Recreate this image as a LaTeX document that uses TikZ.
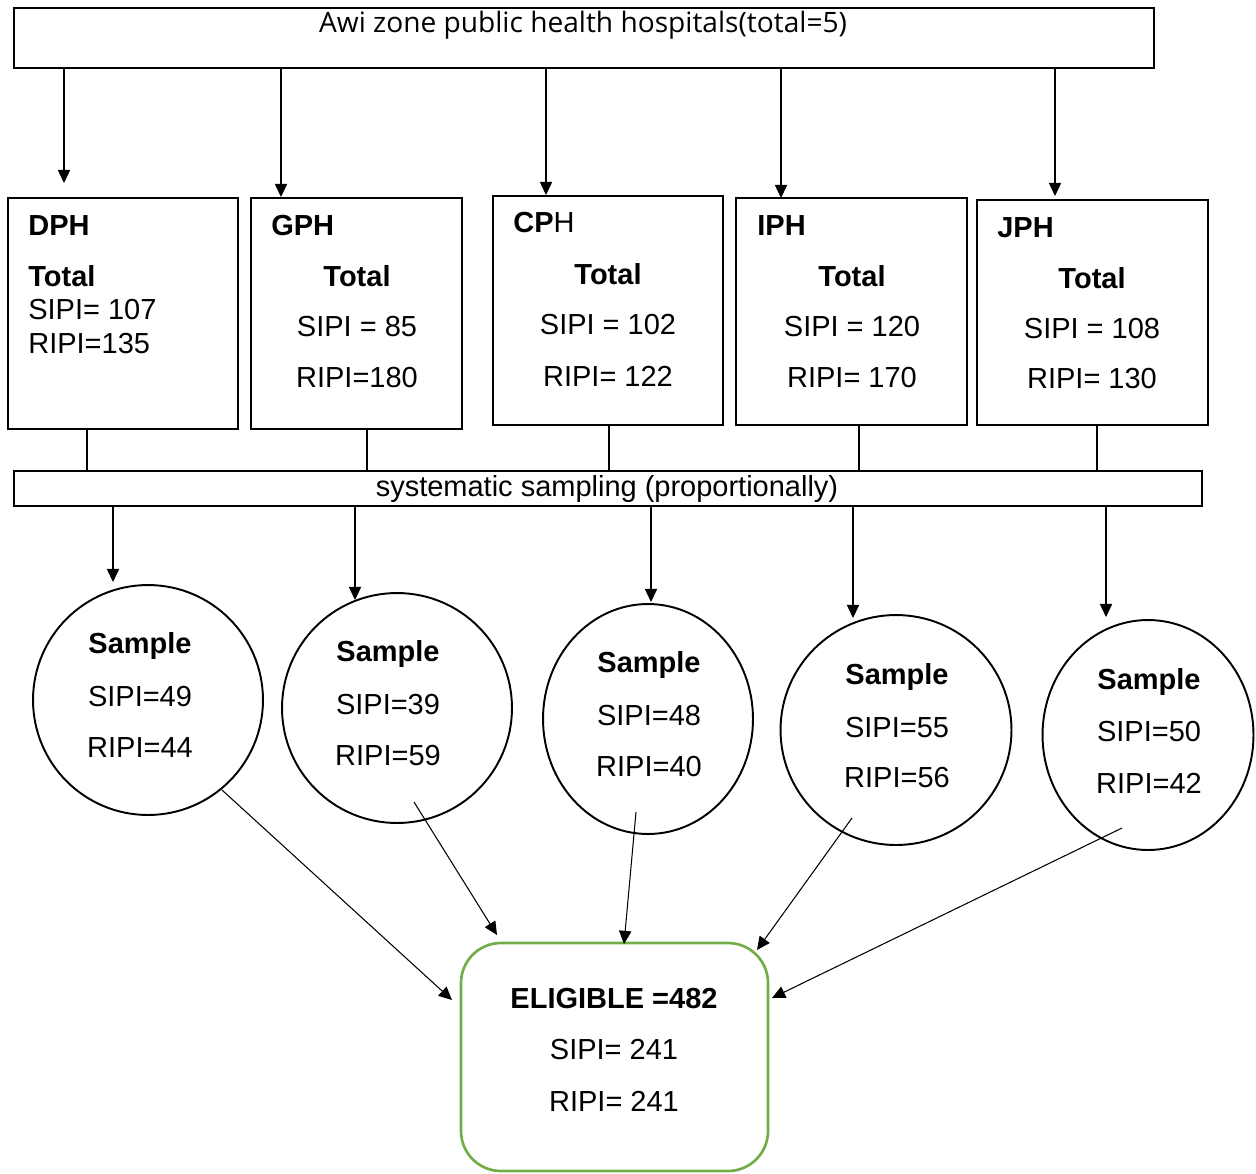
\documentclass[tikz,border=0pt]{standalone}
\usepackage{fontspec}
\setmainfont{Liberation Sans}
\newfontfamily\titlefont{Open Sans}
\usetikzlibrary{arrows.meta,shapes.geometric,fit}
\definecolor{egreen}{RGB}{112,173,71}
\tikzset{
  hbox/.style={draw, line width=0.8pt, inner sep=0pt},
  bar/.style={draw, line width=1.2pt, inner sep=0pt},
  samp/.style={draw, ellipse, line width=1.1pt, inner sep=0pt},
  txt/.style={inner sep=0pt, font=\fontsize{16.5}{20}\selectfont},
  arr/.style={line width=0.6pt, -{Triangle[length=7.5pt,width=7pt]}},
  link/.style={line width=0.6pt}
}
\begin{document}
\begin{tikzpicture}[x=0.02cm, y=-0.02cm]
    \useasboundingbox (0,0) rectangle (1256,1173);
    % top box and sampling bar
    \node[bar, fit={(14,8) (1154,68)}] (top) {};
    \node[txt, font=\titlefont\fontsize{16}{20}\selectfont] (title) at (583,25) {Awi zone public health hospitals(total=5)};
    \node[bar, fit={(14,471) (1202,506)}] (sampling) {};
    \node[txt] (method) at (607,489) {systematic sampling (proportionally)};
    % hospitals
    \node[hbox, fit={(8,198) (238,429)}] (dph) {};
    \node[hbox, fit={(251,198) (462,429)}] (gph) {};
    \node[hbox, fit={(493,196) (723,425)}] (cph) {};
    \node[hbox, fit={(736,198) (967,425)}] (iph) {};
    \node[hbox, fit={(977,200) (1208,425)}] (jph) {};
    \node[txt, anchor=west] (dphname) at (28,226) {\bfseries DPH};
    \node[txt, anchor=west] (dphtot) at (28,276) {\bfseries Total};
    \node[txt, anchor=west] (dphs) at (28,310) {SIPI= 107};
    \node[txt, anchor=west] (dphr) at (28,344) {RIPI=135};
    \node[txt, anchor=west] (gphname) at (271,226) {\bfseries GPH};
    \node[txt] (gphtot) at (357,276) {\bfseries Total};
    \node[txt] (gphs) at (357,327) {SIPI = 85};
    \node[txt] (gphr) at (357,378) {RIPI=180};
    \node[txt, anchor=west] (cphname) at (513,223) {\textbf{CP}H};
    \node[txt] (cphtot) at (608,274) {\bfseries Total};
    \node[txt] (cphs) at (608,325) {SIPI = 102};
    \node[txt] (cphr) at (608,376) {RIPI= 122};
    \node[txt, anchor=west] (iphname) at (757,226) {\bfseries IPH};
    \node[txt] (iphtot) at (852,276) {\bfseries Total};
    \node[txt] (iphs) at (852,327) {SIPI = 120};
    \node[txt] (iphr) at (852,378) {RIPI= 170};
    \node[txt, anchor=west] (jphname) at (997,228) {\bfseries JPH};
    \node[txt] (jphtot) at (1092,278) {\bfseries Total};
    \node[txt] (jphs) at (1092,329) {SIPI = 108};
    \node[txt] (jphr) at (1092,379) {RIPI= 130};
    % samples
    \node[samp, minimum width=4.6cm, minimum height=4.6cm] (s1) at (148,700) {};
    \node[samp, minimum width=4.6cm, minimum height=4.6cm] (s2) at (397,708) {};
    \node[samp, minimum width=4.2cm, minimum height=4.6cm] (s3) at (648,719) {};
    \node[samp, minimum width=4.62cm, minimum height=4.6cm] (s4) at (896,730) {};
    \node[samp, minimum width=4.22cm, minimum height=4.6cm] (s5) at (1148,735) {};
    \node[txt] (s1a) at (140,646) {\bfseries Sample};
    \node[txt] (s1b) at (140,697) {SIPI=49};
    \node[txt] (s1c) at (140,748) {RIPI=44};
    \node[txt] (s2a) at (388,654) {\bfseries Sample};
    \node[txt] (s2b) at (388,705) {SIPI=39};
    \node[txt] (s2c) at (388,756) {RIPI=59};
    \node[txt] (s3a) at (649,665) {\bfseries Sample};
    \node[txt] (s3b) at (649,716) {SIPI=48};
    \node[txt] (s3c) at (649,767) {RIPI=40};
    \node[txt] (s4a) at (897,677) {\bfseries Sample};
    \node[txt] (s4b) at (897,728) {SIPI=55};
    \node[txt] (s4c) at (897,778) {RIPI=56};
    \node[txt] (s5a) at (1149,682) {\bfseries Sample};
    \node[txt] (s5b) at (1149,732) {SIPI=50};
    \node[txt] (s5c) at (1149,783) {RIPI=42};
    % eligible
    \node[draw=egreen, line width=1.5pt, rounded corners=0.8cm, inner sep=0pt, fit={(461,943) (768,1171)}] (elig) {};
    \node[txt] (eliga) at (614,999) {\bfseries ELIGIBLE =482};
    \node[txt] (eligb) at (614,1050) {SIPI= 241};
    \node[txt] (eligc) at (614,1101) {RIPI= 241};
    % arrow ends
    \coordinate (a1) at (64,183);
    \coordinate (a2) at (281,197);
    \coordinate (a3) at (546,195);
    \coordinate (a4) at (781,198);
    \coordinate (a5) at (1055,196);
    \coordinate (l1) at (87,0);
    \coordinate (l2) at (367,0);
    \coordinate (l3) at (609,0);
    \coordinate (l4) at (859,0);
    \coordinate (l5) at (1097,0);
    \coordinate (b1) at (113,582);
    \coordinate (b2) at (355,600);
    \coordinate (b3) at (651,602);
    \coordinate (b4) at (853,618);
    \coordinate (b5) at (1106,617);
    \coordinate (c1) at (222,790);
    \coordinate (c2) at (414,802);
    \coordinate (c3) at (636,812);
    \coordinate (c4) at (852,818);
    \coordinate (c5) at (1122,828);
    \coordinate (e1) at (452,1000);
    \coordinate (e2) at (497,935);
    \coordinate (e3) at (624,944);
    \coordinate (e4) at (757,950);
    \coordinate (e5) at (772,998);
    % connectors
    \draw[arr] (top.south -| a1) -- (a1);
    \draw[arr] (top.south -| a2) -- (a2);
    \draw[arr] (top.south -| a3) -- (a3);
    \draw[arr] (top.south -| a4) -- (a4);
    \draw[arr] (top.south -| a5) -- (a5);
    \draw[link] (dph.south -| l1) -- (sampling.north -| l1);
    \draw[link] (gph.south -| l2) -- (sampling.north -| l2);
    \draw[link] (cph.south -| l3) -- (sampling.north -| l3);
    \draw[link] (iph.south -| l4) -- (sampling.north -| l4);
    \draw[link] (jph.south -| l5) -- (sampling.north -| l5);
    \draw[arr] (sampling.south -| b1) -- (b1);
    \draw[arr] (sampling.south -| b2) -- (b2);
    \draw[arr] (sampling.south -| b3) -- (b3);
    \draw[arr] (sampling.south -| b4) -- (b4);
    \draw[arr] (sampling.south -| b5) -- (b5);
    \draw[arr] (c1) -- (e1);
    \draw[arr] (c2) -- (e2);
    \draw[arr] (c3) -- (e3);
    \draw[arr] (c4) -- (e4);
    \draw[arr] (c5) -- (e5);
\end{tikzpicture}
\end{document}
